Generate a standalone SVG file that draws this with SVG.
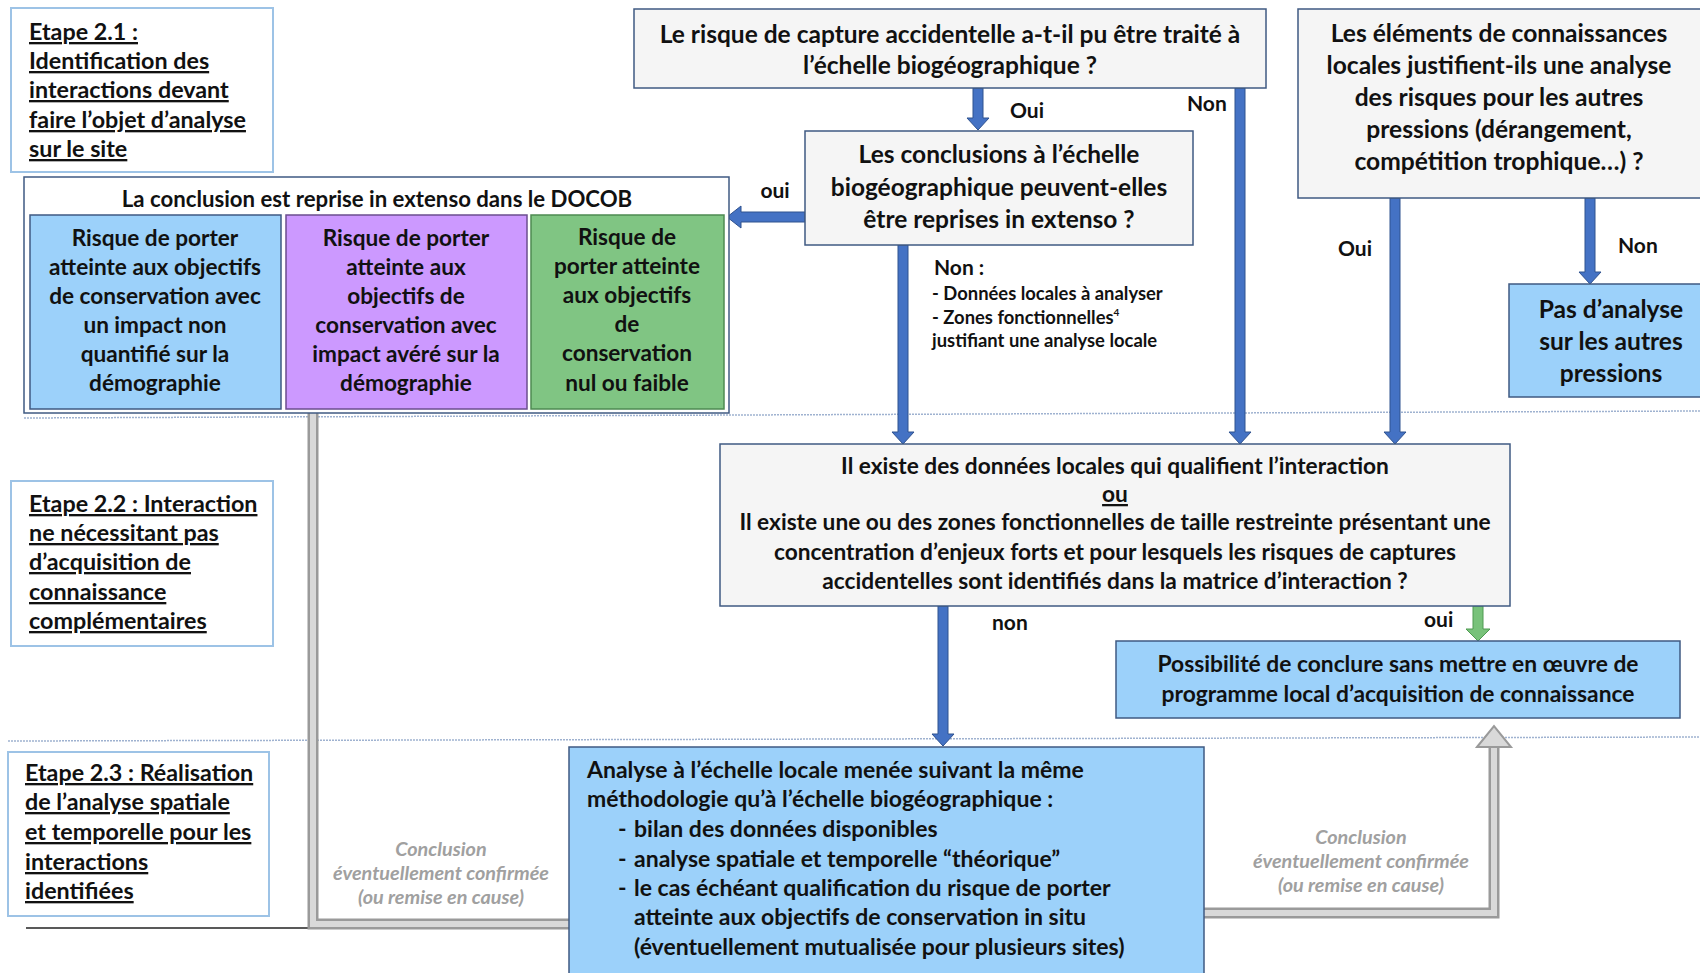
<svg xmlns="http://www.w3.org/2000/svg" width="1700" height="973" viewBox="0 0 1700 973">
<style>
text{font-family:Lato,"Liberation Sans",sans-serif;fill:#111;font-weight:700}
.m{text-anchor:middle}
.etape{fill:#fff;stroke:#9DC3E6;stroke-width:2}
.etxt{font-size:23.3px;text-decoration:underline}
.gray{fill:#F5F5F5;stroke:#3F5A82;stroke-width:1.5}
.lb{fill:#9CD1FA;stroke:#3F5A82;stroke-width:1.5}
.pu{fill:#CC99FF;stroke:#6B4E8F;stroke-width:1.5}
.gr{fill:#80C583;stroke:#4E8A52;stroke-width:1.5}
.t1{font-size:24.5px}
.t3{font-size:24.6px}
.tex{font-size:22.7px}
.tdoc{font-size:22.2px}
.tsub{font-size:22.6px}
.tpos{font-size:22.8px}
.tan{font-size:23px}
.sm{font-size:18.4px}
.lab{font-size:21px}
.ital{font-size:19.8px;font-style:italic;fill:#A0A0A0}
.barr{fill:#4472C4;stroke:#2F528F;stroke-width:1}
.garr{fill:#78C27A;stroke:#4E9A50;stroke-width:1}
.sep{stroke:#9FB2D0;stroke-width:1.5;stroke-dasharray:2 1;fill:none}
.hol1{fill:none;stroke:#9A9A9A;stroke-width:11;stroke-linejoin:miter}
.hol2{fill:none;stroke:#D9D9D9;stroke-width:6;stroke-linejoin:miter}
</style>
<rect width="1700" height="973" fill="#fff"/>
<g id="separators">
<line class="sep" x1="24" y1="418" x2="1700" y2="411"/>
<line class="sep" x1="8" y1="741" x2="1700" y2="737"/>
<line x1="26" y1="928" x2="310" y2="928" stroke="#222" stroke-width="1.5"/>
</g>
<g id="connectors">
<path class="hol1" d="M313,413 V924 H571"/>
<path class="hol2" d="M313,413 V924 H571"/>
<path class="hol1" d="M1202,913 H1494 V745"/>
<path class="hol2" d="M1202,913 H1494 V745"/>
<polygon points="1477,747 1494,726 1511,747" fill="#D9D9D9" stroke="#9A9A9A" stroke-width="2"/>
<polygon class="barr" points="973,88 983,88 983,118 989,118 978,130 967,118 973,118"/>
<polygon class="barr" points="1235,88 1245,88 1245,432 1251,432 1240,444 1229,432 1235,432"/>
<polygon class="barr" points="898,245 908,245 908,432 914,432 903,444 892,432 898,432"/>
<polygon class="barr" points="1390,198 1400,198 1400,432 1406,432 1395,444 1384,432 1390,432"/>
<polygon class="barr" points="1585,198 1595,198 1595,272 1601,272 1590,284 1579,272 1585,272"/>
<polygon class="barr" points="805,212 805,222 741,222 741,228 727,217 741,206 741,212"/>
<polygon class="barr" points="938,606 948,606 948,734 954,734 943,746 932,734 938,734"/>
<polygon class="garr" points="1473,606 1483,606 1483,629 1490,629 1478,641 1466,629 1473,629"/>
</g>
<g id="labels">
<text class="lab" x="1010" y="118">Oui</text>
<text class="lab" x="1187" y="111">Non</text>
<text class="lab m" x="775" y="198">oui</text>
<text class="lab" x="934" y="275">Non :</text>
<text class="sm" x="932" y="300">- Données locales à analyser</text>
<text class="sm" x="932" y="324">- Zones fonctionnelles<tspan font-size="10" dy="-8">4</tspan></text>
<text class="sm" x="932" y="347">justifiant une analyse locale</text>
<text class="lab" x="1338" y="256">Oui</text>
<text class="lab" x="1618" y="253">Non</text>
<text class="lab" x="992" y="630">non</text>
<text class="lab" x="1424" y="627">oui</text>
<text class="ital m" x="441" y="856">Conclusion</text>
<text class="ital m" x="441" y="880">éventuellement confirmée</text>
<text class="ital m" x="441" y="904">(ou remise en cause)</text>
<text class="ital m" x="1361" y="844">Conclusion</text>
<text class="ital m" x="1361" y="868">éventuellement confirmée</text>
<text class="ital m" x="1361" y="892">(ou remise en cause)</text>
</g>
<g id="etape21">
<rect class="etape" x="11" y="8" width="262" height="164"/>
<text class="etxt" x="29" y="40">Etape 2.1 :</text>
<text class="etxt" x="29" y="69">Identification des</text>
<text class="etxt" x="29" y="98">interactions devant</text>
<text class="etxt" x="29" y="128">faire l’objet d’analyse</text>
<text class="etxt" x="29" y="157">sur le site</text>
</g>
<g id="etape22">
<rect class="etape" x="11" y="481" width="262" height="165"/>
<text class="etxt" x="29" y="512">Etape 2.2 : Interaction</text>
<text class="etxt" x="29" y="541">ne nécessitant pas</text>
<text class="etxt" x="29" y="570">d’acquisition de</text>
<text class="etxt" x="29" y="600">connaissance</text>
<text class="etxt" x="29" y="629">complémentaires</text>
</g>
<g id="etape23">
<rect class="etape" x="8" y="752" width="261" height="164"/>
<text class="etxt" x="25" y="781">Etape 2.3 : Réalisation</text>
<text class="etxt" x="25" y="810">de l’analyse spatiale</text>
<text class="etxt" x="25" y="840">et temporelle pour les</text>
<text class="etxt" x="25" y="870">interactions</text>
<text class="etxt" x="25" y="899">identifiées</text>
</g>
<g id="q1">
<rect class="gray" x="634" y="9" width="632" height="79"/>
<text class="t1 m" x="950" y="43">Le risque de capture accidentelle a-t-il pu être traité à</text>
<text class="t1 m" x="950" y="74">l’échelle biogéographique ?</text>
</g>
<g id="q2">
<rect class="gray" x="805" y="131" width="388" height="114"/>
<text class="t1 m" x="999" y="163">Les conclusions à l’échelle</text>
<text class="t1 m" x="999" y="196">biogéographique peuvent-elles</text>
<text class="t1 m" x="999" y="228">être reprises in extenso ?</text>
</g>
<g id="q3">
<rect class="gray" x="1298" y="9" width="414" height="189"/>
<text class="t3 m" x="1499" y="42">Les éléments de connaissances</text>
<text class="t3 m" x="1499" y="74">locales justifient-ils une analyse</text>
<text class="t3 m" x="1499" y="106">des risques pour les autres</text>
<text class="t3 m" x="1499" y="138">pressions (dérangement,</text>
<text class="t3 m" x="1499" y="170">compétition trophique…) ?</text>
</g>
<g id="pas">
<rect class="lb" x="1509" y="284" width="205" height="113"/>
<text class="t3 m" x="1611" y="318">Pas d’analyse</text>
<text class="t3 m" x="1611" y="350">sur les autres</text>
<text class="t3 m" x="1611" y="382">pressions</text>
</g>
<g id="docob">
<rect x="24" y="177" width="705" height="236" fill="#fff" stroke="#3F5A82" stroke-width="1.5"/>
<text class="tdoc m" x="377" y="207">La conclusion est reprise in extenso dans le DOCOB</text>
</g>
<g id="risque-bleu">
<rect class="lb" x="30" y="215" width="251" height="194"/>
<text class="tsub m" x="155" y="246">Risque de porter</text>
<text class="tsub m" x="155" y="275">atteinte aux objectifs</text>
<text class="tsub m" x="155" y="304">de conservation avec</text>
<text class="tsub m" x="155" y="333">un impact non</text>
<text class="tsub m" x="155" y="362">quantifié sur la</text>
<text class="tsub m" x="155" y="391">démographie</text>
</g>
<g id="risque-violet">
<rect class="pu" x="286" y="215" width="241" height="194"/>
<text class="tsub m" x="406" y="246">Risque de porter</text>
<text class="tsub m" x="406" y="275">atteinte aux</text>
<text class="tsub m" x="406" y="304">objectifs de</text>
<text class="tsub m" x="406" y="333">conservation avec</text>
<text class="tsub m" x="406" y="362">impact avéré sur la</text>
<text class="tsub m" x="406" y="391">démographie</text>
</g>
<g id="risque-vert">
<rect class="gr" x="531" y="215" width="193" height="194"/>
<text class="tsub m" x="627" y="245">Risque de</text>
<text class="tsub m" x="627" y="274">porter atteinte</text>
<text class="tsub m" x="627" y="303">aux objectifs</text>
<text class="tsub m" x="627" y="332">de</text>
<text class="tsub m" x="627" y="361">conservation</text>
<text class="tsub m" x="627" y="391">nul ou faible</text>
</g>
<g id="existe">
<rect class="gray" x="720" y="444" width="790" height="162"/>
<text class="tex m" x="1115" y="474">Il existe des données locales qui qualifient l’interaction</text>
<text class="tex m" x="1115" y="502" text-decoration="underline">ou</text>
<text class="tex m" x="1115" y="530">Il existe une ou des zones fonctionnelles de taille restreinte présentant une</text>
<text class="tex m" x="1115" y="560">concentration d’enjeux forts et pour lesquels les risques de captures</text>
<text class="tex m" x="1115" y="589">accidentelles sont identifiés dans la matrice d’interaction ?</text>
</g>
<g id="possibilite">
<rect class="lb" x="1116" y="641" width="564" height="77"/>
<text class="tpos m" x="1398" y="672">Possibilité de conclure sans mettre en œuvre de</text>
<text class="tpos m" x="1398" y="702">programme local d’acquisition de connaissance</text>
</g>
<g id="analyse">
<rect class="lb" x="569" y="747" width="635" height="240"/>
<text class="tan" x="587" y="778">Analyse à l’échelle locale menée suivant la même</text>
<text class="tan" x="587" y="807">méthodologie qu’à l’échelle biogéographique :</text>
<text class="tan" x="618" y="837">-</text><text class="tan" x="634" y="837">bilan des données disponibles</text>
<text class="tan" x="618" y="867">-</text><text class="tan" x="634" y="867">analyse spatiale et temporelle “théorique”</text>
<text class="tan" x="618" y="896">-</text><text class="tan" x="634" y="896">le cas échéant qualification du risque de porter</text>
<text class="tan" x="634" y="925">atteinte aux objectifs de conservation in situ</text>
<text class="tan" x="634" y="955">(éventuellement mutualisée pour plusieurs sites)</text>
</g>
</svg>
